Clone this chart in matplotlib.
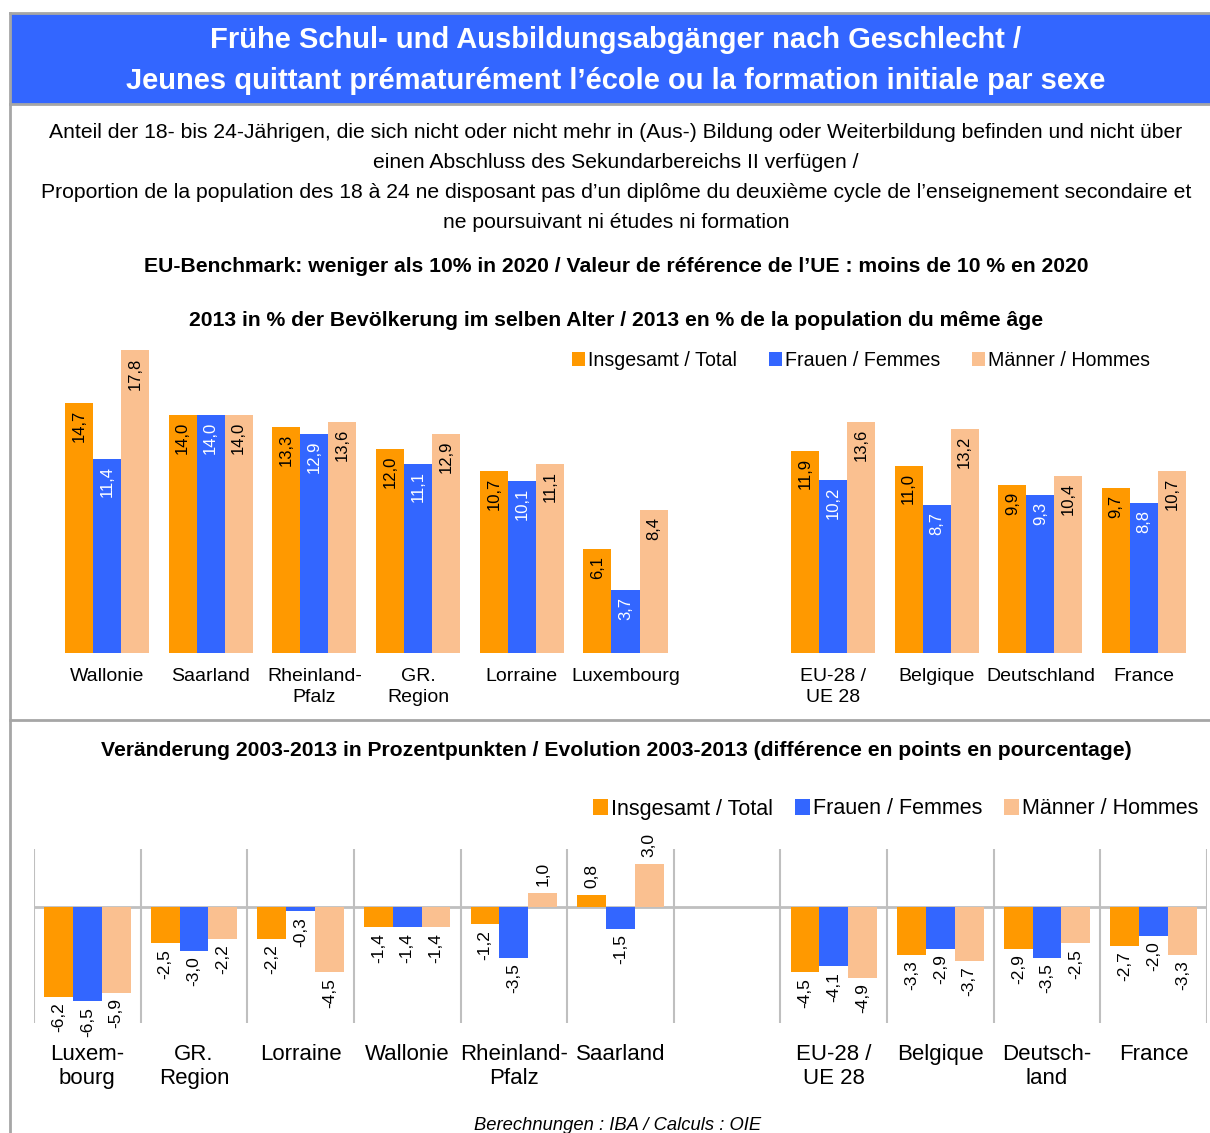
import matplotlib
matplotlib.use('Agg')
import matplotlib.pyplot as plt
from matplotlib.patches import Rectangle
from matplotlib.lines import Line2D

plt.rcParams['font.family'] = ['Liberation Sans', 'DejaVu Sans']

# Daten 2013 (in %)
cat_2013 = ['Wallonie', 'Saarland', 'Rheinland-\nPfalz', 'GR.\nRegion', 'Lorraine',
            'Luxembourg', 'EU-28 /\nUE 28', 'Belgique', 'Deutschland', 'France']
total_2013 = [14.7, 14.0, 13.3, 12.0, 10.7, 6.1, 11.9, 11.0, 9.9, 9.7]
frauen_2013 = [11.4, 14.0, 12.9, 11.1, 10.1, 3.7, 10.2, 8.7, 9.3, 8.8]
maenner_2013 = [17.8, 14.0, 13.6, 12.9, 11.1, 8.4, 13.6, 13.2, 10.4, 10.7]

# Veränderung 2003-2013 (Prozentpunkte)
cat_diff = ['Luxem-\nbourg', 'GR.\nRegion', 'Lorraine', 'Wallonie', 'Rheinland-\nPfalz',
            'Saarland', 'EU-28 /\nUE 28', 'Belgique', 'Deutsch-\nland', 'France']
total_diff = [-6.2, -2.5, -2.2, -1.4, -1.2, 0.8, -4.5, -3.3, -2.9, -2.7]
frauen_diff = [-6.5, -3.0, -0.3, -1.4, -3.5, -1.5, -4.1, -2.9, -3.5, -2.0]
maenner_diff = [-5.9, -2.2, -4.5, -1.4, 1.0, 3.0, -4.9, -3.7, -2.5, -3.3]

serien = ['Insgesamt / Total', 'Frauen / Femmes', 'Männer / Hommes']
farben = ['#FF9900', '#3366FF', '#FAC090']
textfarben = ['black', 'white', 'black']

# Positionen: eine leere Lücke zwischen Regionen und Ländern
pos = [0, 1, 2, 3, 4, 5, 7, 8, 9, 10]

W, H = 1210, 1133
fig = plt.figure(figsize=(W / 100, H / 100), dpi=100)


def box(x0, y0, x1, y1):
    # Pixel (oben links) -> Figurkoordinaten
    return [x0 / W, 1 - y1 / H, (x1 - x0) / W, (y1 - y0) / H]


def fy(y):
    return 1 - y / H


def fx(x):
    return x / W


def fmt(v):
    return f'{v:.1f}'.replace('.', ',')


grau = '#BFBFBF'

# Rahmen und Titelbalken
fig.patches.append(Rectangle((fx(10), fy(104)), fx(1210) - fx(10), fy(14) - fy(104),
                             transform=fig.transFigure, facecolor='#3366FF', edgecolor='none'))
for xs, ys in [([10, 10], [13, 1133]), ([10, 1210], [13, 13]), ([10, 1210], [104, 104]),
               ([10, 1210], [720, 720])]:
    fig.add_artist(Line2D([fx(x) for x in xs], [fy(y) for y in ys], color='#A6A6A6', lw=2,
                          transform=fig.transFigure))

fig.text(fx(616), fy(40), 'Frühe Schul- und Ausbildungsabgänger nach Geschlecht /',
         ha='center', va='center', color='white', fontsize=21, fontweight='bold')
fig.text(fx(616), fy(81), 'Jeunes quittant prématurément l’école ou la formation initiale par sexe',
         ha='center', va='center', color='white', fontsize=21, fontweight='bold')

untertitel = [
    'Anteil der 18- bis 24-Jährigen, die sich nicht oder nicht mehr in (Aus-) Bildung oder Weiterbildung befinden und nicht über',
    'einen Abschluss des Sekundarbereichs II verfügen /',
    'Proportion de la population des 18 à 24 ne disposant pas d’un diplôme du deuxième cycle de l’enseignement secondaire et',
    'ne poursuivant ni études ni formation',
]
for i, t in enumerate(untertitel):
    fig.text(fx(616), fy(133 + 30 * i), t, ha='center', va='center', fontsize=15.2)

fig.text(fx(616), fy(267), 'EU-Benchmark: weniger als 10% in 2020 / Valeur de référence de l’UE : moins de 10 % en 2020',
         ha='center', va='center', fontsize=15.2, fontweight='bold')
fig.text(fx(616), fy(320), '2013 in % der Bevölkerung im selben Alter / 2013 en % de la population du même âge',
         ha='center', va='center', fontsize=15.2, fontweight='bold')
fig.text(fx(616), fy(751), 'Veränderung 2003-2013 in Prozentpunkten / Evolution 2003-2013 (différence en points en pourcentage)',
         ha='center', va='center', fontsize=15.2, fontweight='bold')
fig.text(fx(618), fy(1125), 'Berechnungen : IBA / Calculs : OIE', ha='center', va='center',
         fontsize=13.2, style='italic')

# --- Oberes Diagramm: 2013 ---
ax1 = fig.add_axes(box(55, 313, 1196, 653))
bw = 0.27
for k, (werte, farbe, tf) in enumerate(zip([total_2013, frauen_2013, maenner_2013], farben, textfarben)):
    xs = [p + (k - 1) * bw for p in pos]
    ax1.bar(xs, werte, width=bw, color=farbe, label=serien[k])
    for x, v in zip(xs, werte):
        ax1.annotate(fmt(v), (x, v), xytext=(0, -5), textcoords='offset points',
                     ha='center', va='top', rotation=90, fontsize=12, color=tf)
ax1.set_xlim(-0.5, 10.5)
ax1.set_ylim(0, 20)
ax1.set_xticks(pos)
ax1.set_xticklabels(cat_2013, fontsize=14, linespacing=1.3)
ax1.tick_params(axis='x', length=0, pad=11)
ax1.set_yticks([])
for s in ax1.spines.values():
    s.set_visible(False)
ax1.legend(loc='center', bbox_to_anchor=(fx(861), fy(360)), bbox_transform=fig.transFigure,
           ncol=3, frameon=False, fontsize=14.1, handlelength=0.7, handleheight=0.7,
           handletextpad=0.15, columnspacing=1.6)

# --- Unteres Diagramm: Veränderung ---
ax2 = fig.add_axes(box(34, 849, 1207, 1023))
bw2 = 0.27
for k, (werte, farbe) in enumerate(zip([total_diff, frauen_diff, maenner_diff], farben)):
    xs = [p + (k - 1) * bw2 for p in pos]
    ax2.bar(xs, werte, width=bw2, color=farbe, label=serien[k], zorder=3)
    for x, v in zip(xs, werte):
        if v < 0:
            ax2.annotate(fmt(v), (x, v), xytext=(0, -4), textcoords='offset points',
                         ha='center', va='top', rotation=90, fontsize=12.5)
        else:
            ax2.annotate(fmt(v), (x, v), xytext=(0, 5), textcoords='offset points',
                         ha='center', va='bottom', rotation=90, fontsize=12.5)
ax2.set_xlim(-0.5, 10.5)
ax2.set_ylim(-8, 4)
ax2.axhline(0, color=grau, lw=2, zorder=2)
for b in range(12):
    ax2.axvline(b - 0.5, color=grau, lw=1.5, zorder=1)
ax2.set_xticks(pos)
ax2.set_xticklabels(cat_diff, fontsize=16, linespacing=1.2)
ax2.tick_params(axis='x', length=0, pad=15)
ax2.set_yticks([])
for s in ax2.spines.values():
    s.set_visible(False)
ax2.legend(loc='center', bbox_to_anchor=(fx(896), fy(809)), bbox_transform=fig.transFigure,
           ncol=3, frameon=False, fontsize=15.5, handlelength=0.7, handleheight=0.7,
           handletextpad=0.15, columnspacing=1.0)

fig.savefig('out.png', dpi=100, facecolor='white')
